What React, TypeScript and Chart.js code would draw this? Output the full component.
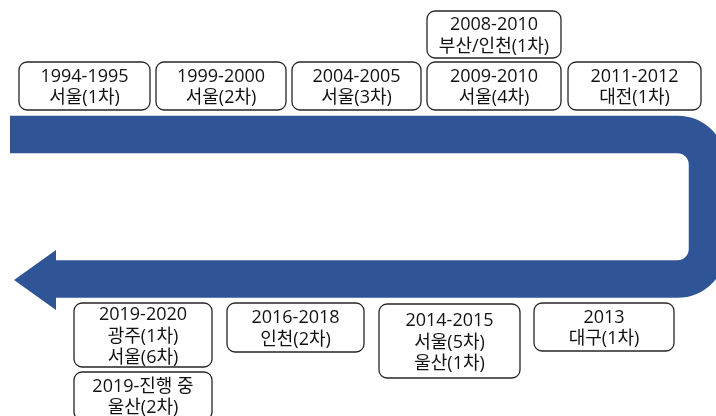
import { useEffect, useRef } from 'react';
import { Chart, registerables } from 'chart.js';

Chart.register(...registerables);

// ---- data: timeline entries ----
const periods = [
  '1994-1995',
  '1999-2000',
  '2004-2005',
  '2009-2010',
  '2008-2010',
  '2011-2012',
  '2013',
  '2014-2015',
  '2016-2018',
  '2019-2020',
  '2019-진행 중',
];
const cities = [
  ['서울(1차)'],
  ['서울(2차)'],
  ['서울(3차)'],
  ['서울(4차)'],
  ['부산/인천(1차)'],
  ['대전(1차)'],
  ['대구(1차)'],
  ['서울(5차)', '울산(1차)'],
  ['인천(2차)'],
  ['광주(1차)', '서울(6차)'],
  ['울산(2차)'],
];

// ---- layout (scale units = pixels) ----
const boxLeft = [19, 156, 292, 427, 427, 568, 534, 379, 227, 74, 74];
const boxRight = [150, 286, 421, 561, 561, 701, 674, 520, 364, 212, 212];
const boxTop = [62, 62, 62, 62, 11, 62, 303, 304, 303, 303, 372];
const boxBottom = [110, 110, 110, 110, 58, 110, 351, 378, 352, 367, 420];

const bandX = [10, 707.5, 707.5, 56];
const bandY = [134.5, 134.5, 279, 279];
const arrowX = [56, 14, 56];
const arrowY = [250, 280, 310];

const BLUE = '#2F5597';

const timelinePlugin = {
  id: 'timeline',
  beforeDatasetsDraw(chart: any) {
    const { ctx, scales } = chart;
    const px = (v: number) => scales.x.getPixelForValue(v);
    const py = (v: number) => scales.y.getPixelForValue(v);
    ctx.save();
    // band
    const bandWidth = Math.abs(py(0) - py(37.5));
    const r = Math.abs(px(30) - px(0));
    ctx.beginPath();
    ctx.moveTo(px(bandX[0]), py(bandY[0]));
    ctx.arcTo(px(bandX[1]), py(bandY[1]), px(bandX[2]), py(bandY[2]), r);
    ctx.arcTo(px(bandX[2]), py(bandY[2]), px(bandX[3]), py(bandY[3]), r);
    ctx.lineTo(px(bandX[3]), py(bandY[3]));
    ctx.lineWidth = bandWidth;
    ctx.strokeStyle = BLUE;
    ctx.lineCap = 'butt';
    ctx.stroke();
    // arrow head
    ctx.beginPath();
    ctx.moveTo(px(arrowX[0]), py(arrowY[0]));
    for (let i = 1; i < arrowX.length; i++) ctx.lineTo(px(arrowX[i]), py(arrowY[i]));
    ctx.closePath();
    ctx.fillStyle = BLUE;
    ctx.fill();

    // boxes
    ctx.font = '18px "Open Sans", "Noto Sans CJK KR", sans-serif';
    ctx.textAlign = 'center';
    ctx.textBaseline = 'middle';
    for (let i = 0; i < periods.length; i++) {
      const x0 = px(boxLeft[i]);
      const x1 = px(boxRight[i]);
      const y0 = py(boxTop[i]);
      const y1 = py(boxBottom[i]);
      ctx.beginPath();
      ctx.roundRect(x0, y0, x1 - x0, y1 - y0, 8);
      ctx.fillStyle = '#ffffff';
      ctx.fill();
      ctx.lineWidth = 1.3;
      ctx.strokeStyle = '#262626';
      ctx.stroke();
      const lines = [periods[i], ...cities[i]];
      const lh = 21.5;
      const cx = (x0 + x1) / 2;
      const cy = (y0 + y1) / 2;
      ctx.fillStyle = '#111111';
      lines.forEach((t, k) => {
        ctx.fillText(t, cx, cy + (k - (lines.length - 1) / 2) * lh + 1.5);
      });
    }
    ctx.restore();
  },
};

export default function App() {
  const ref = useRef<HTMLCanvasElement>(null);
  useEffect(() => {
    if (!ref.current) return;
    const chart = new Chart(ref.current, {
      type: 'scatter',
      data: {
        datasets: [
          {
            label: 'band',
            data: bandX.map((x, i) => ({ x, y: bandY[i] })),
            pointRadius: 0,
            showLine: false,
          },
          {
            label: 'entries',
            data: periods.map((_, i) => ({
              x: (boxLeft[i] + boxRight[i]) / 2,
              y: (boxTop[i] + boxBottom[i]) / 2,
            })),
            pointRadius: 0,
            showLine: false,
          },
        ],
      },
      options: {
        responsive: false,
        maintainAspectRatio: false,
        animation: false,
        devicePixelRatio: 1,
        layout: { padding: 0 },
        plugins: {
          legend: { display: false },
          tooltip: { enabled: false },
          title: { display: false },
        },
        events: [],
        scales: {
          x: { type: 'linear', min: 0, max: 716, display: false },
          y: { type: 'linear', min: 0, max: 416, reverse: true, display: false },
        },
      },
      plugins: [timelinePlugin],
    });
    return () => chart.destroy();
  }, []);
  return (
    <div style={{ position: 'fixed', left: 0, top: 0, width: 716, height: 416, background: '#fff' }}>
      <canvas ref={ref} width={716} height={416} style={{ display: 'block' }} />
    </div>
  );
}
